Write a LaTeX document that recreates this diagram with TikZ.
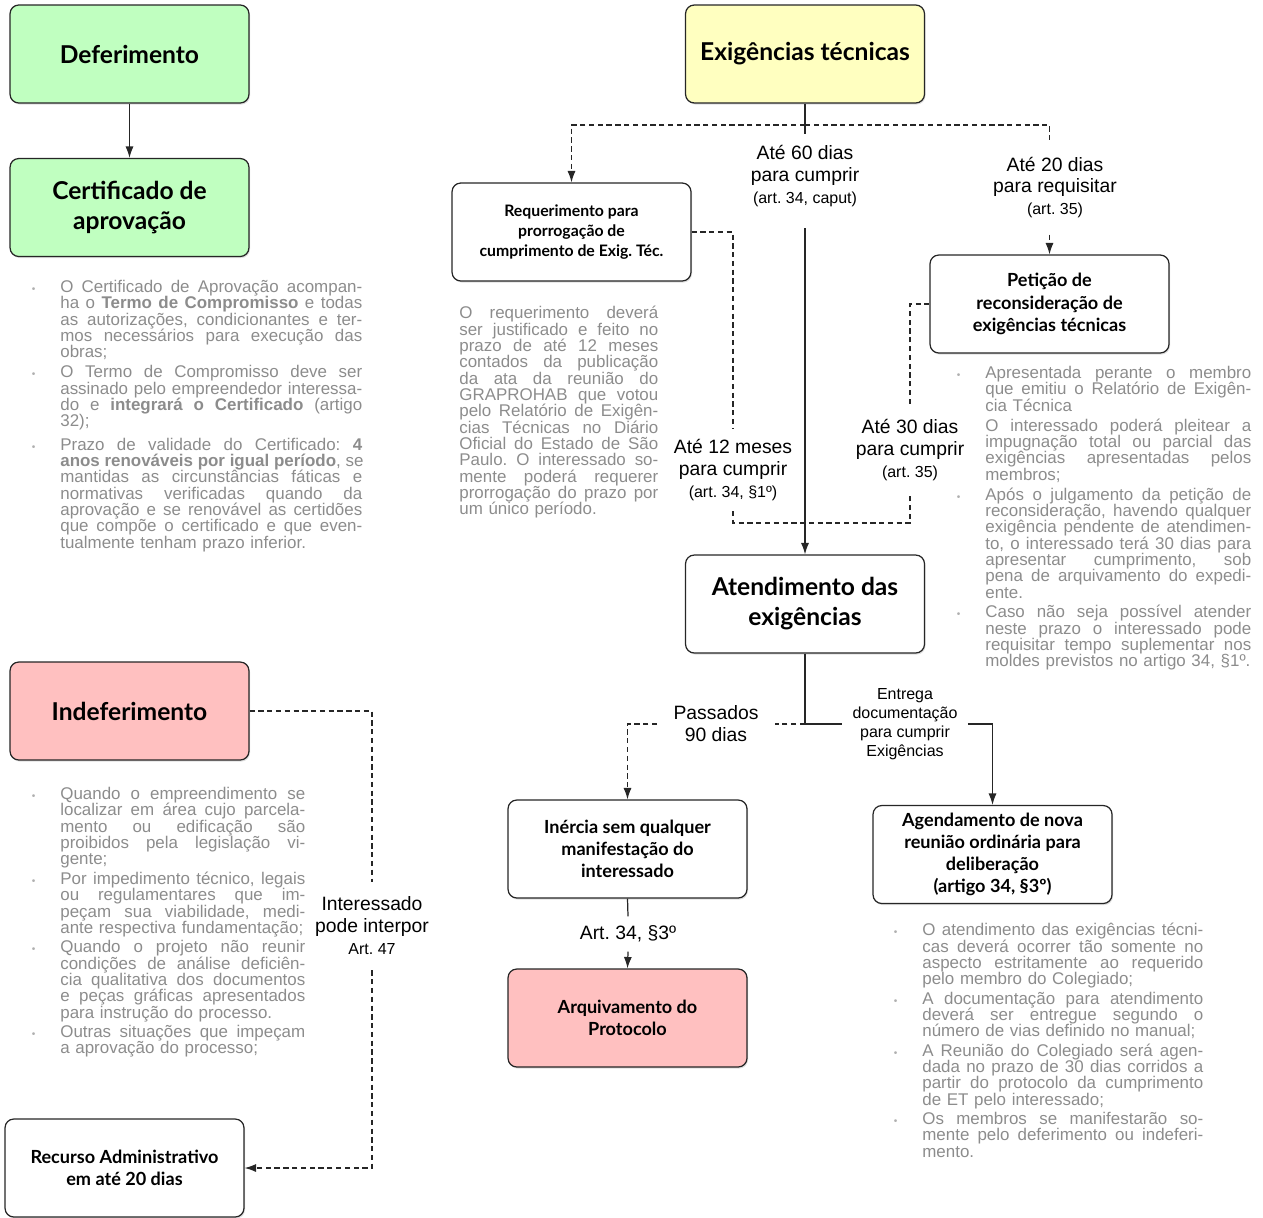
\documentclass[tikz,border=0pt]{standalone}
\usepackage{fontspec}
\setmainfont{Liberation Sans}
\newfontfamily\caixafont{Lato}
\usepackage{graphicx}
\usetikzlibrary{arrows.meta,shadows}

\definecolor{verde}{RGB}{192,255,192}
\definecolor{amarelo}{RGB}{255,255,192}
\definecolor{rosa}{RGB}{255,192,192}
\definecolor{cinzanota}{RGB}{140,140,140}
\definecolor{ponto}{RGB}{175,175,175}

% linha justificada e marcador
\newlength{\lw}
\newcommand{\jl}[1]{\leavevmode\hbox to \lw{\spaceskip=0.278em plus 1fil\relax #1}\\}
\newcommand{\bul}{\llap{\textcolor{ponto}{\scalebox{0.6}{\textbullet}}\hspace{0.5cm}}}
\newcommand{\artp}[1]{{\fontsize{9.1}{12.5}\selectfont #1}}

\tikzset{
caixa/.style={draw=black!85, line width=0.7pt, rounded corners=5pt, fill=white,
  minimum width=4.78cm, minimum height=1.96cm, align=center,
  drop shadow={shadow xshift=0.6pt, shadow yshift=-0.9pt, opacity=0.25}},
grande/.style={font=\caixafont\bfseries\fontsize{14}{17}\selectfont},
media/.style={font=\caixafont\bfseries\fontsize{10.3}{12.6}\selectfont},
pequena/.style={font=\caixafont\bfseries\fontsize{9}{11.3}\selectfont},
rotulo/.style={align=center, inner xsep=2pt, font=\fontsize{11}{12.5}\selectfont},
notabloco/.style={anchor=north west, inner sep=0pt, align=left, text=cinzanota,
  text width=#1, font=\fontsize{9.64}{9.3}\selectfont\setlength{\lw}{#1}},
liga/.style={line width=0.7pt, draw=black!85},
tracejado/.style={liga, dash pattern=on 3pt off 2pt},
seta/.style={-{Latex[length=6.5pt,width=4.6pt]}}
}

\begin{document}
\frenchspacing
\begin{tikzpicture}[x=0.02cm,y=-0.02cm]
\useasboundingbox (0,0) rectangle (1263,1217);

% caixas
\node[caixa,grande,fill=verde] (def) at (129.5,54) {Deferimento};
\node[caixa,grande,fill=verde] (cert) at (129.5,207.5) {Certificado de\\aprovação};
\node[caixa,grande,fill=amarelo] (exi) at (805,54) {Exigências técnicas};
\node[caixa,pequena] (req) at (571.5,232) {Requerimento para\\prorrogação de\\cumprimento de Exig. Téc.};
\node[caixa,media] (pet) at (1049.5,304) {Petição de\\reconsideração de\\exigências técnicas};
\node[caixa,grande] (ate) at (805,604) {Atendimento das\\exigências};
\node[caixa,grande,fill=rosa] (indef) at (129.5,711) {Indeferimento};
\node[caixa,media] (inercia) at (627.5,849) {Inércia sem qualquer\\manifestação do\\interessado};
\node[caixa,media,fill=rosa] (arq) at (627.5,1018) {Arquivamento do\\Protocolo};
\node[caixa,media] (agend) at (992.5,854.5) {Agendamento de nova\\reunião ordinária para\\deliberação\\(artigo 34, §3º)};
\node[caixa,media] (recurso) at (124.5,1168) {Recurso Administrativo\\em até 20 dias};

% rotulos
\node[rotulo,inner ysep=0.22cm] (l60) at (805,176) {Até 60 dias\\para cumprir\\\artp{(art. 34, caput)}};
\node[rotulo,inner ysep=0.32cm] (l20) at (1055,187.5) {Até 20 dias\\para requisitar\\\artp{(art. 35)}};
\node[rotulo,inner ysep=0.2cm] (l12) at (733,470) {Até 12 meses\\para cumprir\\\artp{(art. 34, §1º)}};
\node[rotulo,inner ysep=0.3cm] (l30) at (910,450) {Até 30 dias\\para cumprir\\\artp{(art. 35)}};
\node[rotulo,inner xsep=0.32cm] (l90) at (716,724) {Passados\\90 dias};
\node[rotulo,inner xsep=0.2cm,font=\fontsize{9.1}{10.8}\selectfont] (lent) at (905,724) {Entrega\\documentação\\para cumprir\\Exigências};
\node[rotulo,inner ysep=0.18cm] (lart) at (628,934) {Art. 34, §3º};
\node[rotulo,inner ysep=0.3cm] (linterp) at (372,926) {Interessado\\pode interpor\\\artp{Art. 47}};

% ligacoes
\coordinate (split) at (805,125);
\coordinate (split2) at (805,724);
\draw[liga,seta] (def) -- (cert);
\draw[liga] (exi.south) -- (l60.north);
\draw[tracejado,seta] (split) -| (req.north);
\draw[tracejado] (split) -| (pet.north |- l20.north);
\draw[tracejado,seta] (pet.north |- l20.south) -- (pet.north);
\draw[liga,seta,shorten <=0.2cm] (l60.south) -- (ate.north);
\draw[tracejado] (req.east) -| (l12.north);
\draw[tracejado] (l12.south) -- ++(0,12) -| (l30.south);
\draw[tracejado] (l30.north) |- (pet.west);
\draw[liga] (ate.south) -- (split2);
\draw[tracejado] (split2) -- (l90.east);
\draw[tracejado,seta] (l90.west) -| (inercia.north);
\draw[liga] (split2) -- (lent.west);
\draw[liga,seta] (lent.east) -| (agend.north);
\draw[liga] (inercia.south) -- (lart.north);
\draw[tracejado,seta] (lart.south) -- (arq.north);
\draw[tracejado] (indef.east) -| (linterp.north);
\draw[tracejado,seta] (linterp.south) |- (recurso.east);

% notas
\node[notabloco=6.04cm] (notacert) at (60,280) {%
\jl{\bul O Certificado de Aprovação acompan-}
\jl{ha o \textbf{Termo de Compromisso} e todas}
\jl{as autorizações, condicionantes e ter-}
\jl{mos necessários para execução das}
obras;\\[0.07cm]
\jl{\bul O Termo de Compromisso deve ser}
\jl{assinado pelo empreendedor interessa-}
\jl{do e \textbf{integrará o Certificado} (artigo}
32);\\[0.14cm]
\jl{\bul Prazo de validade do Certificado: \textbf{4}}
\jl{\textbf{anos renováveis por igual período}, se}
\jl{mantidas as circunstâncias fáticas e}
\jl{normativas verificadas quando da}
\jl{aprovação e se renovável as certidões}
\jl{que compõe o certificado e que even-}
tualmente tenham prazo inferior.};

\node[notabloco=3.98cm] (notareq) at (459,306) {%
\jl{O requerimento deverá}
\jl{ser justificado e feito no}
\jl{prazo de até 12 meses}
\jl{contados da publicação}
\jl{da ata da reunião do}
\jl{GRAPROHAB que votou}
\jl{pelo Relatório de Exigên-}
\jl{cias Técnicas no Diário}
\jl{Oficial do Estado de São}
\jl{Paulo. O interessado so-}
\jl{mente poderá requerer}
\jl{prorrogação do prazo por}
um único período.};

\node[notabloco=5.32cm] (notapet) at (985,366) {%
\jl{\bul Apresentada perante o membro}
\jl{que emitiu o Relatório de Exigên-}
cia Técnica\\[0.07cm]
\jl{O interessado poderá pleitear a}
\jl{impugnação total ou parcial das}
\jl{exigências apresentadas pelos}
membros;\\[0.07cm]
\jl{\bul Após o julgamento da petição de}
\jl{reconsideração, havendo qualquer}
\jl{exigência pendente de atendimen-}
\jl{to, o interessado terá 30 dias para}
\jl{apresentar cumprimento, sob}
\jl{pena de arquivamento do expedi-}
ente.\\[0.07cm]
\jl{\bul Caso não seja possível atender}
\jl{neste prazo o interessado pode}
\jl{requisitar tempo suplementar nos}
moldes previstos no artigo 34, §1º.};

\node[notabloco=4.9cm] (notaindef) at (60,787) {%
\jl{\bul Quando o empreendimento se}
\jl{localizar em área cujo parcela-}
\jl{mento ou edificação são}
\jl{proibidos pela legislação vi-}
gente;\\[0.06cm]
\jl{\bul Por impedimento técnico, legais}
\jl{ou regulamentares que im-}
\jl{peçam sua viabilidade, medi-}
ante respectiva fundamentação;\\[0.06cm]
\jl{\bul Quando o projeto não reunir}
\jl{condições de análise deficiên-}
\jl{cia qualitativa dos documentos}
\jl{e peças gráficas apresentados}
para instrução do processo.\\[0.06cm]
\jl{\bul Outras situações que impeçam}
a aprovação do processo;};

\node[notabloco=5.62cm] (notaagend) at (922,923) {%
\jl{\bul O atendimento das exigências técni-}
\jl{cas deverá ocorrer tão somente no}
\jl{aspecto estritamente ao requerido}
pelo membro do Colegiado;\\[0.06cm]
\jl{\bul A documentação para atendimento}
\jl{deverá ser entregue segundo o}
número de vias definido no manual;\\[0.06cm]
\jl{\bul A Reunião do Colegiado será agen-}
\jl{dada no prazo de 30 dias corridos a}
\jl{partir do protocolo da cumprimento}
de ET pelo interessado;\\[0.06cm]
\jl{\bul Os membros se manifestarão so-}
\jl{mente pelo deferimento ou indeferi-}
mento.};
\end{tikzpicture}
\end{document}
